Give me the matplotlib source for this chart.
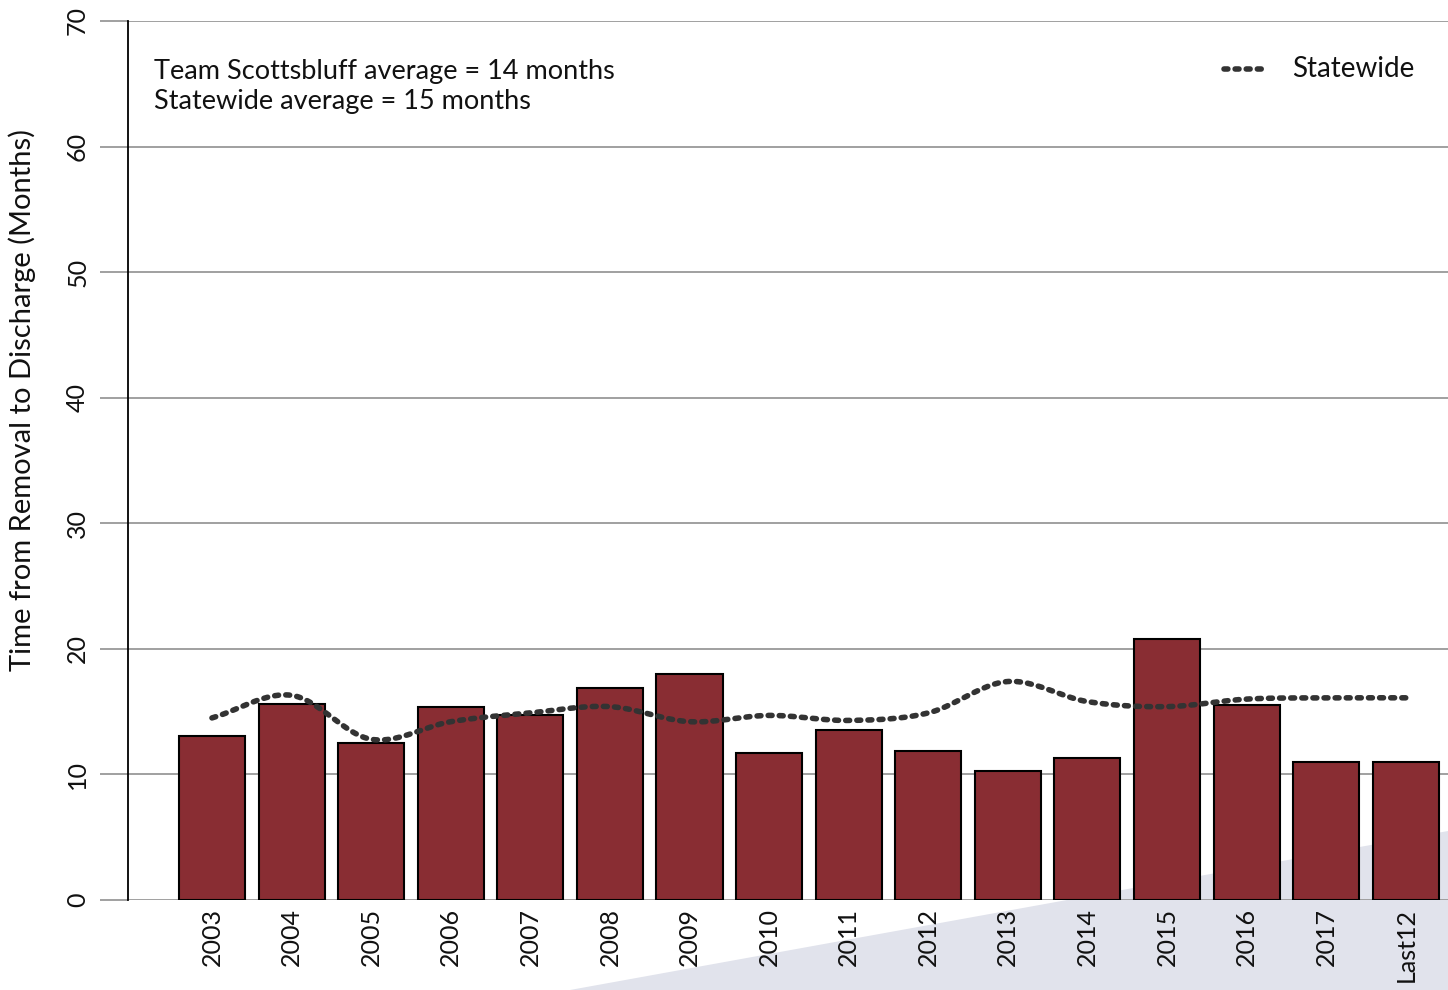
import numpy as np
import matplotlib
matplotlib.use("Agg")
import matplotlib.pyplot as plt
from matplotlib.patches import Polygon
from matplotlib.lines import Line2D

plt.rcParams['font.family'] = ['Lato', 'DejaVu Sans']

categories = ["2003", "2004", "2005", "2006", "2007", "2008", "2009", "2010",
              "2011", "2012", "2013", "2014", "2015", "2016", "2017", "Last12"]
team_values = [13.1, 15.6, 12.5, 15.4, 14.7, 16.9, 18.0, 11.7,
               13.5, 11.9, 10.3, 11.3, 20.8, 15.5, 11.0, 11.0]
statewide_values = [14.5, 16.3, 12.8, 14.2, 14.9, 15.4, 14.2, 14.7,
                    14.3, 14.9, 17.4, 15.8, 15.4, 16.0, 16.1, 16.1]
y_ticks = [0, 10, 20, 30, 40, 50, 60, 70]

W, H = 1448, 990
fig = plt.figure(figsize=(W / 100, H / 100), dpi=100)

# decorative background triangle
tri = Polygon([(570 / W, 0), (1.0, (H - 831) / H), (1.0, 0)],
              closed=True, transform=fig.transFigure, facecolor="#e1e3ec",
              edgecolor="none", zorder=0)
fig.patches.append(tri)

ax = fig.add_axes([128 / W, (H - 900) / H, (W - 128) / W, 879 / H])
ax.set_facecolor("none")
ax.set_zorder(1)

x = np.arange(len(categories))
ax.bar(x, team_values, width=0.83, color="#892d33", edgecolor="black",
       linewidth=1.5, zorder=3)


def catmull_rom(xs, ys, n=24):
    xs = np.asarray(xs, float)
    ys = np.asarray(ys, float)
    px = np.concatenate([[2 * xs[0] - xs[1]], xs, [2 * xs[-1] - xs[-2]]])
    py = np.concatenate([[2 * ys[0] - ys[1]], ys, [2 * ys[-1] - ys[-2]]])
    outx, outy = [], []
    for i in range(1, len(px) - 2):
        t = np.linspace(0, 1, n, endpoint=False)
        t2, t3 = t * t, t * t * t
        for arr, out in ((px, outx), (py, outy)):
            p0, p1, p2, p3 = arr[i - 1], arr[i], arr[i + 1], arr[i + 2]
            out.extend(0.5 * ((2 * p1) + (-p0 + p2) * t +
                              (2 * p0 - 5 * p1 + 4 * p2 - p3) * t2 +
                              (-p0 + 3 * p1 - 3 * p2 + p3) * t3))
    outx.append(xs[-1])
    outy.append(ys[-1])
    return np.array(outx), np.array(outy)


sx, sy = catmull_rom(x, statewide_values)
line_kw = dict(color="#333333", linewidth=4.0, dash_capstyle="round",
               linestyle=(0, (0.7, 1.3)))
ax.plot(sx, sy, zorder=4, **line_kw)

ax.set_xlim(-1.055, 15.53)
ax.set_ylim(0, 70)
ax.set_yticks(y_ticks)
ax.set_yticklabels([str(v) for v in y_ticks], rotation=90, va="center",
                   fontsize=18, color="#111111")
ax.set_xticks(x)
ax.set_xticklabels(categories, rotation=90, fontsize=18, color="#111111")
ax.tick_params(axis="x", length=0, pad=6)
ax.tick_params(axis="y", length=20, width=1.3, color="#999999", pad=8)
ax.yaxis.grid(True, color="#999999", linewidth=1.3, zorder=1)
ax.set_axisbelow(True)

for s in ("top", "right", "bottom"):
    ax.spines[s].set_visible(False)
ax.spines["left"].set_color("black")
ax.spines["left"].set_linewidth(1.3)
ax.spines["left"].set_zorder(5)

fig.text(22 / W, 1 - 400 / H, "Time from Removal to Discharge (Months)",
         rotation=90, ha="center", va="center", fontsize=21, color="#111111")

fig.text(154 / W, 1 - 72 / H, "Team Scottsbluff average = 14 months",
         ha="left", va="center", fontsize=19.5, color="#111111")
fig.text(154 / W, 1 - 102 / H, "Statewide average = 15 months",
         ha="left", va="center", fontsize=19.5, color="#111111")

fig.add_artist(Line2D([1224 / W, 1268 / W], [1 - 69 / H, 1 - 69 / H],
                      transform=fig.transFigure, **line_kw))
fig.text(1292 / W, 1 - 69 / H, "Statewide", ha="left", va="center",
         fontsize=20, color="#111111")

fig.savefig("out.png", dpi=100)
